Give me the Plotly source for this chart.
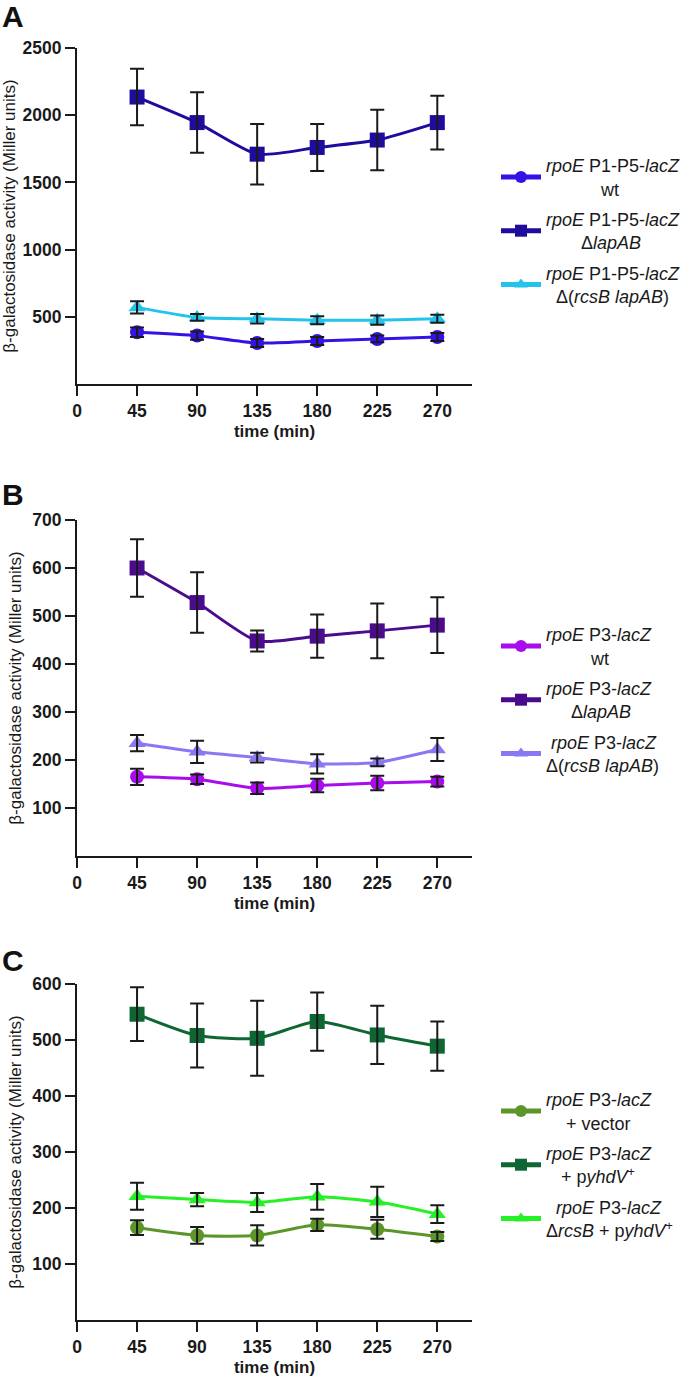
import plotly.graph_objects as go
from plotly.subplots import make_subplots

time = [45, 90, 135, 180, 225, 270]

# panel A: rpoE P1-P5-lacZ
a_wt = [385, 360, 305, 320, 335, 350]
a_wt_err = [35, 30, 30, 30, 25, 30]
a_lap = [2135, 1945, 1710, 1760, 1815, 1945]
a_lap_err = [210, 225, 225, 175, 225, 200]
a_rcs = [570, 495, 485, 475, 475, 485]
a_rcs_err = [45, 25, 35, 30, 35, 30]

# panel B: rpoE P3-lacZ
b_wt = [165, 160, 141, 147, 152, 155]
b_wt_err = [17, 10, 12, 14, 15, 10]
b_lap = [600, 528, 448, 458, 469, 481]
b_lap_err = [60, 63, 22, 45, 57, 58]
b_rcs = [235, 217, 205, 192, 195, 222]
b_rcs_err = [17, 23, 10, 20, 8, 24]

# panel C: rpoE P3-lacZ + plasmids
c_vec = [165, 151, 151, 170, 162, 149]
c_vec_err = [13, 15, 18, 11, 17, 8]
c_yhd = [546, 508, 503, 533, 509, 489]
c_yhd_err = [48, 57, 67, 52, 52, 44]
c_rcs = [221, 215, 210, 220, 211, 189]
c_rcs_err = [24, 12, 17, 23, 27, 16]

NB = "&nbsp;"
P15 = "<i>rpoE</i> P1-P5-<i>lacZ</i>"
P3 = "<i>rpoE</i> P3-<i>lacZ</i>"

panels = [
    [
        (a_wt, a_wt_err, "#3412e6", "circle", P15 + "<br>" + NB * 11 + "wt"),
        (a_lap, a_lap_err, "#1e0c9c", "square", P15 + "<br>" + NB * 7 + "Δ<i>lapAB</i>"),
        (a_rcs, a_rcs_err, "#22c4ec", "triangle-up", P15 + "<br>" + NB * 2 + "Δ(<i>rcsB lapAB</i>)"),
    ],
    [
        (b_wt, b_wt_err, "#a80cec", "circle", P3 + "<br>" + NB * 9 + "wt"),
        (b_lap, b_lap_err, "#4a0c8c", "square", P3 + "<br>" + NB * 5 + "Δ<i>lapAB</i>"),
        (b_rcs, b_rcs_err, "#8878f4", "triangle-up", NB + P3 + "<br>Δ(<i>rcsB lapAB</i>)"),
    ],
    [
        (c_vec, c_vec_err, "#5c962a", "circle", P3 + "<br>" + NB * 4 + "+ vector"),
        (c_yhd, c_yhd_err, "#0e6632", "square", P3 + "<br>" + NB * 3 + "+ p<i>yhdV</i><sup>+</sup>"),
        (c_rcs, c_rcs_err, "#26f026", "triangle-up", NB * 2 + P3 + "<br>Δ<i>rcsB</i> + p<i>yhdV</i><sup>+</sup>"),
    ],
]

H = 1379
FONT = "Arial, Liberation Sans, sans-serif"
# pixel rows for each plot (top, bottom)
rows_px = [(48, 384), (520, 856), (984, 1320)]
y_ranges = [[0, 2500], [0, 700], [0, 600]]
y_ticks = [[500, 1000, 1500, 2000, 2500], [100, 200, 300, 400, 500, 600, 700],
           [100, 200, 300, 400, 500, 600]]
legend_top_px = [147, 616, 1081]
letter_top_px = [-2, 476, 942]
letters = ["A", "B", "C"]

fig = make_subplots(rows=3, cols=1)

for p, series in enumerate(panels):
    leg = "legend" if p == 0 else f"legend{p + 1}"
    for i, (vals, err, col, sym, name) in enumerate(series):
        fig.add_trace(
            go.Scatter(
                x=time,
                y=vals,
                mode="lines+markers",
                name=name,
                legend=leg,
                legendgroup=f"{p}-{i}",
                line=dict(color=col, width=3, shape="spline", smoothing=0.6),
                marker=dict(color=col, size=15 if sym != "circle" else 14, symbol=sym),
            ),
            row=p + 1,
            col=1,
        )
    # error bars drawn on top of markers
    for vals, err, col, sym, name in series:
        fig.add_trace(
            go.Scatter(
                x=time,
                y=vals,
                mode="markers",
                marker=dict(size=1, opacity=0),
                error_y=dict(type="data", array=err, color="#1a1a1a", thickness=2, width=7),
                showlegend=False,
                hoverinfo="skip",
            ),
            row=p + 1,
            col=1,
        )

for p in range(3):
    top, bot = rows_px[p]
    fig.update_xaxes(
        domain=[77 / 693, 472 / 693],
        range=[0, 296],
        automargin=False,
        tickvals=[0, 45, 90, 135, 180, 225, 270],
        ticks="outside",
        ticklen=10,
        tickwidth=2,
        tickcolor="#1a1a1a",
        showline=True,
        linewidth=2,
        linecolor="#1a1a1a",
        showgrid=False,
        zeroline=False,
        tickfont=dict(family=FONT, size=17.5, color="#1a1a1a", weight="bold"),
        title=dict(text="<b>time (min)</b>", font=dict(family=FONT, size=17, color="#1a1a1a"), standoff=5),
        row=p + 1,
        col=1,
    )
    fig.update_yaxes(
        domain=[1 - bot / H, 1 - top / H],
        range=y_ranges[p],
        automargin=False,
        tickvals=y_ticks[p],
        ticks="outside",
        ticklen=10,
        tickwidth=2,
        tickcolor="#1a1a1a",
        showline=True,
        linewidth=2,
        linecolor="#1a1a1a",
        showgrid=False,
        zeroline=False,
        tickfont=dict(family=FONT, size=17.5, color="#1a1a1a", weight="bold"),
        title=dict(text="β-galactosidase activity (Miller units)",
                   font=dict(family=FONT, size=17, color="#1a1a1a"), standoff=6),
        row=p + 1,
        col=1,
    )
    fig.add_annotation(
        text=f"<b>{letters[p]}</b>", x=0.0, y=1 - letter_top_px[p] / H,
        xref="paper", yref="paper", xanchor="left", yanchor="top", showarrow=False,
        font=dict(family=FONT, size=30, color="#111111"),
    )

legend_style = dict(
    xanchor="left",
    yanchor="top",
    x=496 / 693,
    bgcolor="rgba(0,0,0,0)",
    font=dict(family=FONT, size=18, color="#1a1a1a"),
    itemsizing="constant",
    itemwidth=40,
    tracegroupgap=4,
    valign="middle",
)
fig.update_layout(
    width=693,
    height=1379,
    margin=dict(l=0, r=0, t=0, b=0),
    paper_bgcolor="white",
    plot_bgcolor="white",
    font=dict(family=FONT, color="#1a1a1a"),
    legend=dict(legend_style, y=1 - legend_top_px[0] / H),
    legend2=dict(legend_style, y=1 - legend_top_px[1] / H),
    legend3=dict(legend_style, y=1 - legend_top_px[2] / H),
)

# drop the default page margin so the figure sits at the window's corner
fig.write_html(
    "out.html",
    config={"displayModeBar": False},
    post_script="document.body.style.margin='0';",
)
